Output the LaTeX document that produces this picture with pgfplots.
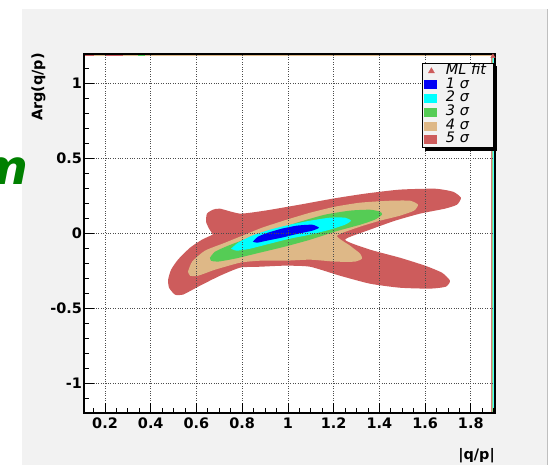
\documentclass[border=0pt]{standalone}
\usepackage{fontspec}
\setmainfont{DejaVu Sans}
\usepackage{pgfplots}
\pgfplotsset{compat=1.18}
\usetikzlibrary{shadows}
\definecolor{canvas}{RGB}{242,242,242}
\definecolor{cfive}{RGB}{205,92,92}
\definecolor{cfour}{RGB}{222,184,135}
\definecolor{cthree}{RGB}{85,204,85}
\definecolor{ctwo}{RGB}{0,255,255}
\definecolor{cone}{RGB}{0,0,245}
\definecolor{titlegreen}{RGB}{0,128,0}
\newcommand{\legsq}[1]{\pgfsetfillcolor{#1}\pgfpathrectangle{\pgfpoint{0bp}{-4.5bp}}{\pgfpoint{13bp}{9bp}}\pgfusepath{fill}\pgfpathmoveto{\pgfpoint{21bp}{0bp}}\pgfusepath{discard}}
\begin{document}
\begin{tikzpicture}[x=1bp,y=1bp]
\useasboundingbox (0,0) rectangle (552,465);
\fill[canvas] (22,0) rectangle (547,456);
\draw[black!25, line width=0.8bp] (547,0) -- (547,456);
\node[anchor=base east, inner sep=0, text=titlegreen, font=\bfseries\itshape\fontsize{48}{48}\selectfont] at (29,280) {m};
\begin{axis}[
  at={(84bp,52bp)}, anchor=south west, scale only axis,
  width=411bp, height=359bp,
  xmin=0.108, xmax=1.906, ymin=-1.2, ymax=1.193,
  axis background/.style={fill=white},
  axis on top,
  axis line style={black, line width=1.5bp},
  tick pos=left, tick align=inside,
  major tick length=10bp, minor tick length=5bp,
  every tick/.style={black, line width=0.8bp},
  xtick={0.2,0.4,0.6,0.8,1,1.2,1.4,1.6,1.8},
  xticklabels={0.2,0.4,0.6,0.8,1,1.2,1.4,1.6,1.8},
  ytick={-1,-0.5,0,0.5,1},
  yticklabels={-1,-0.5,0,0.5,1},
  minor xtick={0.15,0.25,0.3,0.35,0.45,0.5,0.55,0.65,0.7,0.75,0.85,0.9,0.95,1.05,1.1,1.15,1.25,1.3,1.35,1.45,1.5,1.55,1.65,1.7,1.75,1.85,1.9},
  minor ytick={-1.1,-0.9,-0.8,-0.7,-0.6,-0.4,-0.3,-0.2,-0.1,0.1,0.2,0.3,0.4,0.6,0.7,0.8,0.9,1.1},
  grid=major,
  major grid style={black!70, line width=0.7bp, dash pattern=on 0.8bp off 1.6bp},
  ticklabel style={font=\bfseries\fontsize{14.5}{14.5}\selectfont},
  xticklabel style={yshift=-1.5bp},
  yticklabel style={xshift=1.5bp},
  xlabel={|q/p|}, ylabel={Arg(q/p)},
  every axis x label/.style={at={(rel axis cs:1,0)}, anchor=east, inner sep=0pt, yshift=-42.5bp, font=\bfseries\fontsize{14.5}{14.5}\selectfont},
  every axis y label/.style={at={([xshift=-45.5bp,yshift=1bp]rel axis cs:0,1)}, rotate=90, anchor=east, inner sep=0pt, font=\bfseries\fontsize{14.5}{14.5}\selectfont},
  legend cell align=left,
  legend style={at={(0.8224,0.975)}, anchor=north west, draw=black, line width=0.8bp, fill=canvas,
    inner xsep=2bp, inner ysep=1bp, row sep=0pt,
    font=\itshape\fontsize{14.5}{14.5}\selectfont,
    nodes={inner sep=0pt, text height=10bp, text depth=3.7bp, text width=46bp, align=left},
    drop shadow={shadow xshift=3bp, shadow yshift=-3bp, fill=black, opacity=1}},
]
% 5 sigma
\addplot[fill=cfive, draw=none, smooth, tension=0.35, forget plot] coordinates {
(0.672,-0.011) (0.655,0.029) (0.642,0.075) (0.646,0.129) (0.672,0.155) (0.703,0.162)
(0.791,0.129) (0.900,0.149) (1.053,0.189) (1.197,0.229) (1.337,0.262) (1.490,0.289)
(1.644,0.295) (1.722,0.275) (1.757,0.235) (1.740,0.189) (1.687,0.162) (1.578,0.129)
(1.469,0.082) (1.359,0.022) (1.250,-0.045) (1.359,-0.111) (1.490,-0.165) (1.600,-0.218)
(1.674,-0.265) (1.709,-0.318) (1.691,-0.358) (1.622,-0.371) (1.490,-0.365) (1.359,-0.338)
(1.228,-0.285) (1.097,-0.225) (0.987,-0.218) (0.878,-0.225) (0.791,-0.231) (0.703,-0.285)
(0.616,-0.351) (0.541,-0.411) (0.506,-0.411) (0.480,-0.365) (0.476,-0.311) (0.489,-0.245)
(0.519,-0.178) (0.572,-0.098) (0.624,-0.045) (0.672,-0.011)};
% 4 sigma
\addplot[fill=cfour, draw=none, smooth, tension=0.35, forget plot] coordinates {
(0.563,-0.258) (0.581,-0.191) (0.637,-0.118) (0.725,-0.065) (0.812,-0.011) (0.887,0.035)
(0.996,0.089) (1.097,0.135) (1.206,0.175) (1.316,0.202) (1.447,0.215) (1.534,0.215)
(1.569,0.189) (1.552,0.149) (1.490,0.115) (1.403,0.082) (1.316,0.042) (1.215,-0.018)
(1.272,-0.085) (1.316,-0.138) (1.324,-0.171) (1.294,-0.191) (1.206,-0.191) (1.097,-0.178)
(0.987,-0.185) (0.878,-0.185) (0.791,-0.198) (0.681,-0.245) (0.607,-0.285) (0.572,-0.285)
(0.563,-0.258)};
% 3 sigma
\addplot[fill=cthree, draw=none, smooth, tension=0.35, forget plot] coordinates {
(0.659,-0.165) (0.681,-0.125) (0.738,-0.085) (0.834,-0.031) (0.944,0.022) (1.053,0.075)
(1.162,0.122) (1.272,0.149) (1.359,0.155) (1.403,0.142) (1.412,0.122) (1.381,0.089)
(1.316,0.055) (1.206,0.009) (1.097,-0.045) (0.987,-0.091) (0.878,-0.131) (0.769,-0.171)
(0.694,-0.191) (0.664,-0.185) (0.659,-0.165)};
% 2 sigma
\addplot[fill=ctwo, draw=none, smooth, tension=0.35, forget plot] coordinates {
(0.751,-0.105) (0.782,-0.065) (0.843,-0.018) (0.922,0.022) (1.009,0.055) (1.097,0.082)
(1.184,0.102) (1.250,0.102) (1.276,0.082) (1.250,0.055) (1.184,0.022) (1.097,-0.011)
(1.009,-0.038) (0.922,-0.071) (0.834,-0.105) (0.777,-0.118) (0.751,-0.105)};
% 1 sigma
\addplot[fill=cone, draw=none, smooth, tension=0.35, forget plot] coordinates {
(0.847,-0.058) (0.869,-0.025) (0.913,0.002) (0.974,0.029) (1.040,0.049) (1.106,0.055)
(1.136,0.035) (1.106,0.015) (1.044,-0.005) (0.974,-0.031) (0.909,-0.051) (0.865,-0.065)
(0.847,-0.058)};
% edge artefacts
\addplot[cfour, line width=1.5bp, forget plot] coordinates {(0.11,1.182) (1.9,1.182)};
\addplot[cfive, line width=1.5bp, forget plot] coordinates {(0.112,1.182) (0.15,1.182)};
\addplot[cfive, line width=1.5bp, forget plot] coordinates {(0.2,1.182) (0.28,1.182)};
\addplot[cthree, line width=1.5bp, forget plot] coordinates {(0.345,1.182) (0.375,1.182)};
\addplot[cfive!80, line width=0.8bp, forget plot] coordinates {(1.889,-1.2) (1.889,1.18)};
\addplot[cthree!70, line width=0.6bp, forget plot] coordinates {(1.894,-1.2) (1.894,1.18)};
\addplot[ctwo!70, line width=0.6bp, forget plot] coordinates {(1.898,-1.2) (1.898,1.18)};
\addplot[only marks, mark=triangle*, mark size=2.5bp, color=cfive, forget plot] coordinates {(1.897,1.177)};
% legend
\addlegendimage{legend image code/.code={\draw[cfive, fill=cfive, line width=0.4bp] plot[mark=triangle*, mark size=3.5bp] coordinates {(7bp,0bp)}; \path (21bp,0bp);}}
\addlegendentry{ML fit}
\addlegendimage{legend image code/.code={\legsq{cone}}}
\addlegendentry{1 σ}
\addlegendimage{legend image code/.code={\legsq{ctwo}}}
\addlegendentry{2 σ}
\addlegendimage{legend image code/.code={\legsq{cthree}}}
\addlegendentry{3 σ}
\addlegendimage{legend image code/.code={\legsq{cfour}}}
\addlegendentry{4 σ}
\addlegendimage{legend image code/.code={\legsq{cfive}}}
\addlegendentry{5 σ}
\end{axis}
\end{tikzpicture}
\end{document}
